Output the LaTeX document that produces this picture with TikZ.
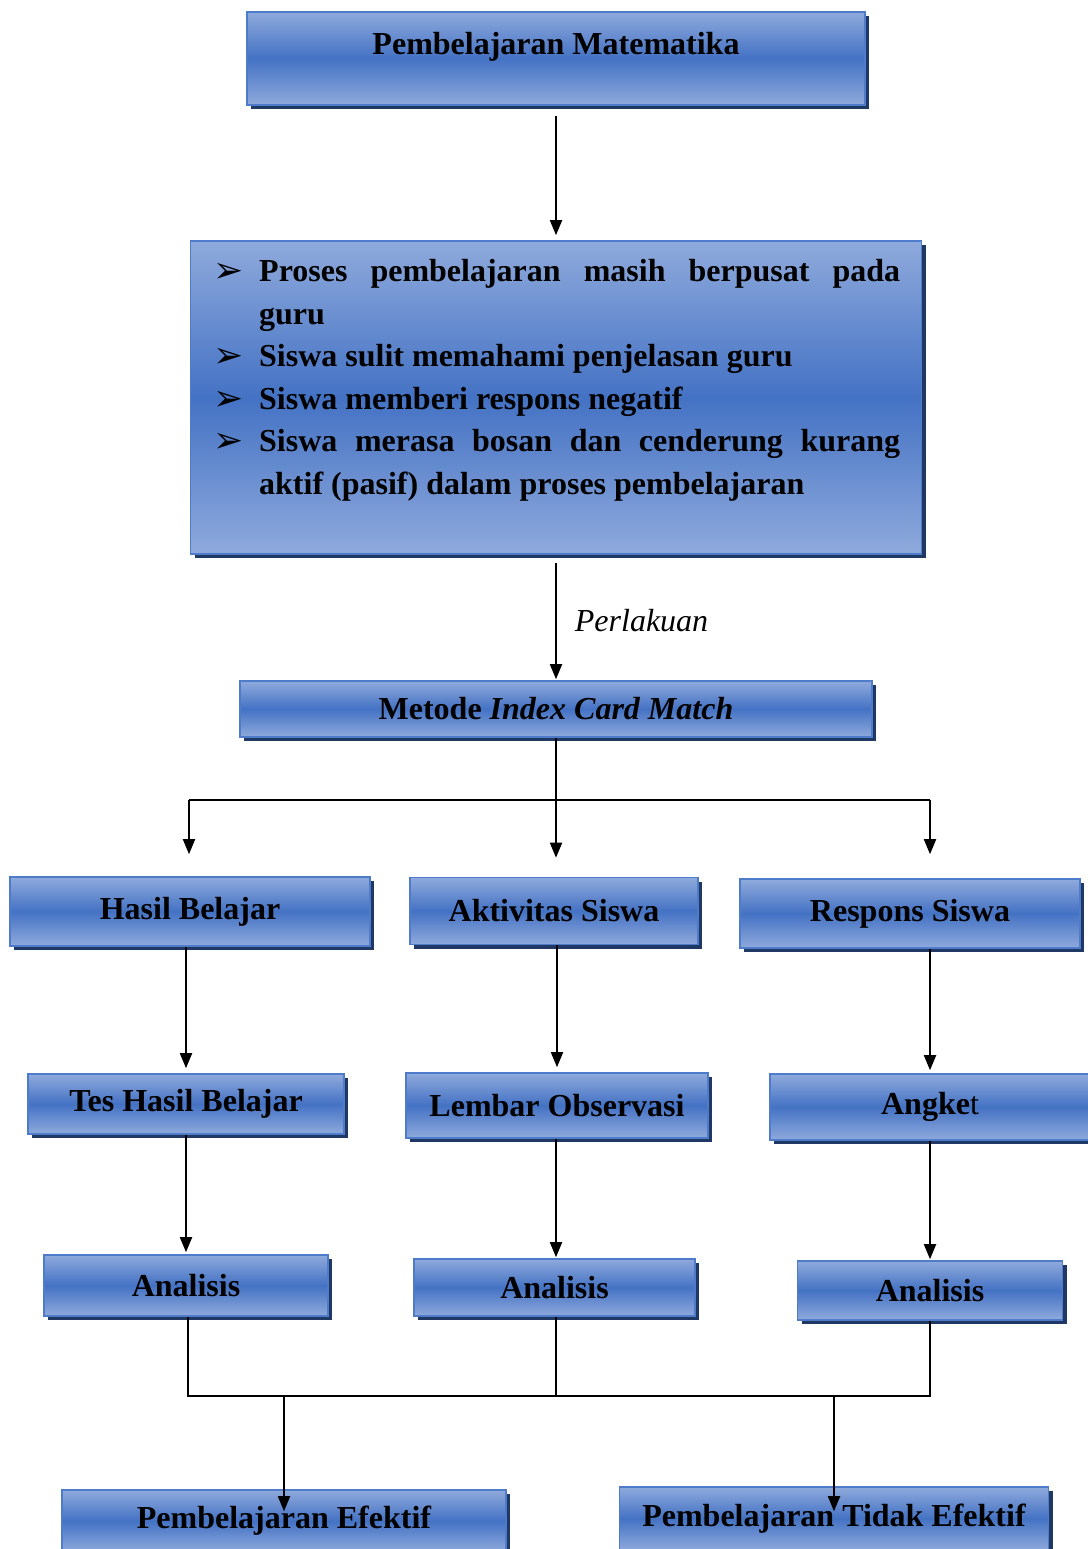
\documentclass[tikz,border=0pt]{standalone}
\usepackage{fontspec}
\setmainfont{Liberation Serif}
\newfontfamily\dejavu{DejaVu Sans}
\usetikzlibrary{arrows.meta,shadows,calc}
\definecolor{lightb}{HTML}{8FAADC}
\definecolor{midb}{HTML}{4472C4}
\definecolor{bordb}{HTML}{4F7BCB}
\definecolor{shadb}{HTML}{1F3864}
\newcommand{\bul}{\makebox[46pt][l]{\raisebox{-1pt}{\dejavu\fontsize{36}{36}\selectfont ➢}}}
\begin{document}
\begin{tikzpicture}[x=1pt,y=-1pt,
  blk/.style={draw=bordb, line width=1.6pt, top color=lightb, bottom color=lightb, middle color=midb,
    general shadow={fill=shadb, shadow xshift=4pt, shadow yshift=-4pt},
    inner sep=0pt, font=\fontsize{32}{42.6}\selectfont\bfseries},
  con/.style={line width=1.8pt, black},
  arr/.style={con, -{Triangle[length=15pt,width=12pt]}}]
\useasboundingbox (0,0) rectangle (1087,1549);
\fill[white] (0,0) rectangle (1087,1549);

\node[blk, minimum width=618pt, minimum height=93pt, text height=20pt, text depth=28pt] (top) at (556,58.5) {Pembelajaran Matematika};
\node[blk, minimum width=731pt, minimum height=313pt] (big) at (556,397.5) {};
\node[anchor=north west, inner sep=0pt, text width=687pt, align=justify,
  font=\fontsize{32}{42.6}\selectfont\bfseries] (bigtxt) at (213,259)
 {\hyphenpenalty=10000\exhyphenpenalty=10000\emergencystretch=3em
  \hangindent=46pt\hangafter=1\bul Proses pembelajaran masih berpusat pada guru\par
  \hangindent=46pt\hangafter=1\bul Siswa sulit memahami penjelasan guru\par
  \hangindent=46pt\hangafter=1\bul Siswa memberi respons negatif\par
  \hangindent=46pt\hangafter=1\bul Siswa merasa bosan dan cenderung kurang aktif (pasif) dalam proses pembelajaran\par};
\node[blk, minimum width=632pt, minimum height=56pt] (met) at (556,709) {Metode \textit{Index Card Match}};
\node[blk, minimum width=360pt, minimum height=69pt] (hasil) at (190,911.5) {Hasil Belajar};
\node[blk, minimum width=288pt, minimum height=67pt] (akt) at (554,911) {Aktivitas Siswa};
\node[blk, minimum width=340pt, minimum height=69pt] (resp) at (910,913.5) {Respons Siswa};
\node[blk, minimum width=316pt, minimum height=60pt] (tes) at (186,1104) {Tes Hasil Belajar};
\node[blk, minimum width=302pt, minimum height=65pt] (lem) at (557,1105.5) {Lembar Observasi};
\node[blk, minimum width=320pt, minimum height=66pt] (ang) at (930,1107) {Angke{\mdseries t}};
\node[blk, minimum width=284pt, minimum height=61pt] (an1) at (186,1285.5) {Analisis};
\node[blk, minimum width=281pt, minimum height=57pt] (an2) at (554.5,1287.5) {Analisis};
\node[blk, minimum width=265pt, minimum height=59pt] (an3) at (930,1290.5) {Analisis};
\node[blk, minimum width=444pt, minimum height=62pt] (ef) at (284,1521) {Pembelajaran Efektif};
\node[blk, minimum width=429pt, minimum height=63pt] (tef) at (834,1518.5) {Pembelajaran Tidak Efektif};

\draw[arr, shorten <=10pt, shorten >=5pt] (top.south) -- (top.south |- big.north);
\draw[arr, shorten <=8pt, shorten >=1pt] (big.south) -- (big.south |- met.north)
  node[midway, right=18pt, yshift=-3pt, inner sep=0pt, font=\fontsize{32}{40}\selectfont\itshape] (perl) {Perlakuan};

\coordinate (br) at (556,800);
\coordinate (bL) at (189,800);
\coordinate (bR) at (930,800);
\draw[con] (met.south -| br) -- (br);
\draw[con] (bL) -- (bR);
\draw[arr, shorten >=22pt] (bL) -- (bL |- hasil.north);
\draw[arr, shorten >=19pt] (br) -- (br |- akt.north);
\draw[arr, shorten >=24pt] (bR) -- (bR |- resp.north);

\draw[arr, shorten >=5pt] (tes.north |- hasil.south) -- (tes.north);
\draw[arr, shorten >=5pt] (lem.north |- akt.south) -- (lem.north);
\draw[arr, shorten >=3pt] (ang.north |- resp.south) -- (ang.north);
\draw[arr, shorten >=2pt] (tes.south) -- (tes.south |- an1.north);
\draw[arr, shorten >=1pt] (lem.south -| br) -- (br |- an2.north);
\draw[arr, shorten >=1pt] (ang.south) -- (ang.south |- an3.north);

\coordinate (j) at (556,1396);
\draw[con] (an1.south -| 188,0) -- (188,1396) -- (an3.south |- j) -- (an3.south);
\draw[con] (an2.south -| j) -- (j);
\draw[arr] (ef.north |- j) -- ([yshift=-22pt]ef.north);
\draw[arr] (tef.north |- j) -- ([yshift=-25pt]tef.north);
\end{tikzpicture}
\end{document}
